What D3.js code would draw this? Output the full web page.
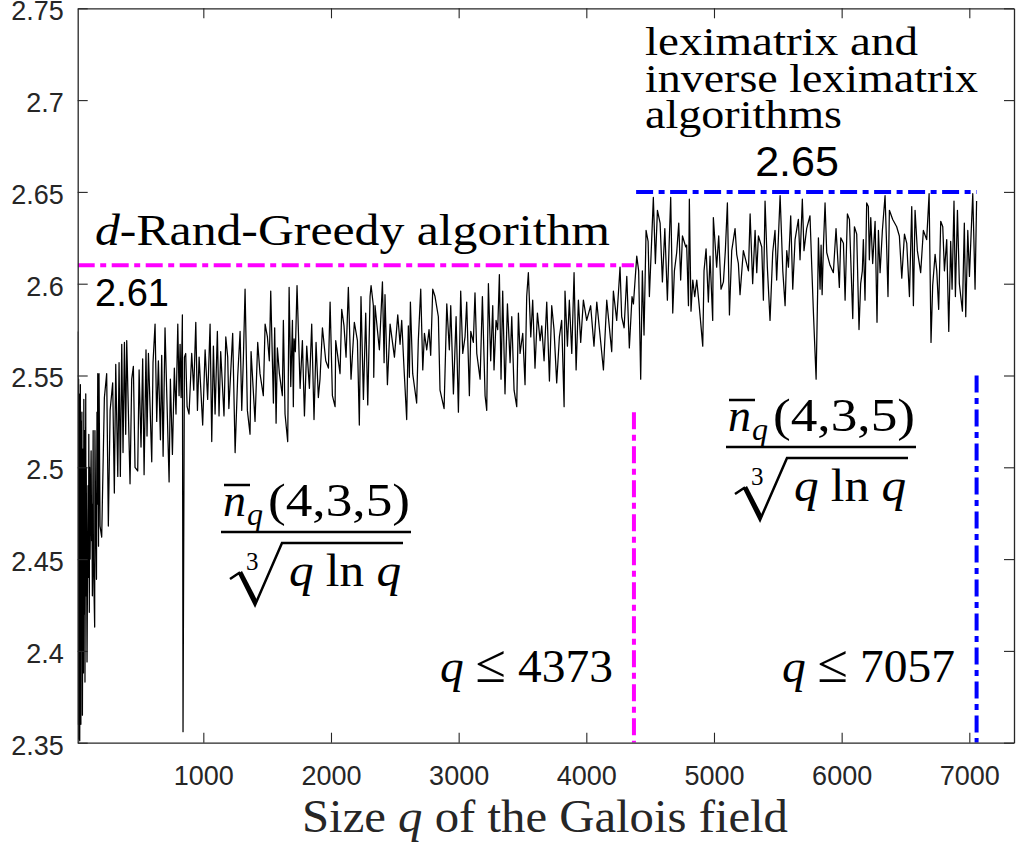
<!DOCTYPE html>
<html>
<head>
<meta charset="utf-8">
<script src="https://cdn.jsdelivr.net/npm/d3@7"></script>
<style>
  body { margin: 0; background: #fff; }
  svg { display: block; }
</style>
</head>
<body>
<svg id="chart" width="1016" height="844"></svg>
<script>
// ratio  n_q(4,3,5) / cbrt(q ln q) as [q, value]
const ratioLow = [
  [16, 2.574], [19, 2.36], [23, 2.548], [25, 2.352], [27, 2.54], [29, 2.37], [31, 2.53], [32, 2.351],
  [37, 2.545], [41, 2.36], [43, 2.525], [47, 2.40], [49, 2.53], [53, 2.365], [59, 2.51], [61, 2.388],
  [64, 2.537], [67, 2.42], [71, 2.52], [73, 2.383], [79, 2.54], [81, 2.43], [83, 2.50], [89, 2.394],
  [97, 2.49], [101, 2.44], [103, 2.518], [107, 2.421], [109, 2.50], [113, 2.45], [121, 2.509], [125, 2.46],
  [127, 2.48], [131, 2.43], [137, 2.52], [139, 2.45], [149, 2.413], [151, 2.52], [157, 2.47], [163, 2.439],
  [167, 2.53], [169, 2.48], [173, 2.551], [179, 2.457], [183, 2.551], [191, 2.468], [204, 2.462], [225, 2.538],
  [243, 2.551], [256, 2.468], [270, 2.531], [290, 2.546], [303, 2.486], [314, 2.556], [330, 2.495], [340, 2.557],
  [350, 2.495], [361, 2.567], [371, 2.508], [382, 2.568], [392, 2.518], [400, 2.569], [426, 2.491], [439, 2.548],
  [452, 2.555], [465, 2.500], [486, 2.498], [497, 2.553], [512, 2.511], [525, 2.559], [536, 2.496], [551, 2.564],
  [559, 2.517], [570, 2.562], [596, 2.503], [606, 2.557], [622, 2.578], [635, 2.525], [648, 2.558], [664, 2.515],
  [674, 2.561], [685, 2.506], [700, 2.576], [732, 2.492], [742, 2.548], [758, 2.507], [773, 2.554], [786, 2.529],
  [800, 2.578], [810, 2.539], [818, 2.567], [826, 2.538], [836, 2.583], [841, 2.356], [852, 2.560], [862, 2.562],
  [873, 2.533], [888, 2.529], [909, 2.562], [925, 2.542], [941, 2.579], [954, 2.531], [967, 2.560], [995, 2.523]
];

const ratioMid = [
  [1014, 2.564], [1034, 2.537], [1053, 2.578], [1066, 2.514], [1079, 2.566], [1092, 2.529], [1110, 2.574], [1123, 2.528],
  [1136, 2.563], [1162, 2.528], [1176, 2.571], [1191, 2.560], [1200, 2.532], [1230, 2.573], [1249, 2.508], [1269, 2.549],
  [1288, 2.574], [1301, 2.531], [1314, 2.560], [1327, 2.597], [1345, 2.531], [1366, 2.518], [1374, 2.563], [1405, 2.525],
  [1426, 2.568], [1444, 2.551], [1470, 2.539], [1484, 2.578], [1502, 2.571], [1517, 2.558], [1528, 2.596], [1549, 2.535],
  [1559, 2.576], [1570, 2.524], [1580, 2.565], [1596, 2.551], [1619, 2.539], [1627, 2.580], [1640, 2.529], [1661, 2.514],
  [1672, 2.598], [1685, 2.544], [1698, 2.580], [1705, 2.533], [1711, 2.570], [1721, 2.563], [1734, 2.599], [1758, 2.543],
  [1776, 2.569], [1792, 2.528], [1810, 2.566], [1831, 2.543], [1849, 2.578], [1867, 2.526], [1883, 2.568], [1901, 2.538],
  [1914, 2.548], [1933, 2.576], [1959, 2.558], [1980, 2.554], [1993, 2.590], [2011, 2.539], [2032, 2.533], [2037, 2.569],
  [2071, 2.551], [2084, 2.586], [2102, 2.577], [2118, 2.560], [2136, 2.598], [2157, 2.548], [2183, 2.579], [2207, 2.569],
  [2222, 2.523], [2235, 2.593], [2254, 2.537], [2272, 2.584], [2288, 2.534], [2306, 2.593], [2314, 2.599], [2332, 2.588],
  [2335, 2.549], [2345, 2.588], [2379, 2.564], [2403, 2.601], [2416, 2.557], [2423, 2.594], [2442, 2.545], [2463, 2.578],
  [2497, 2.560], [2523, 2.583], [2541, 2.567], [2554, 2.580], [2572, 2.554], [2593, 2.526], [2606, 2.577], [2614, 2.549],
  [2622, 2.590], [2640, 2.551], [2671, 2.535], [2684, 2.569], [2703, 2.597], [2719, 2.553], [2732, 2.573], [2750, 2.564],
  [2768, 2.575], [2781, 2.561], [2797, 2.597], [2815, 2.593], [2841, 2.582], [2854, 2.542]
];

const ratioUpper = [
  [2886, 2.532], [2907, 2.589], [2927, 2.564], [2938, 2.588], [2959, 2.540], [2980, 2.582], [2998, 2.530], [3016, 2.596],
  [3032, 2.562], [3050, 2.571], [3063, 2.590], [3084, 2.539], [3095, 2.574], [3115, 2.568], [3128, 2.595], [3142, 2.562],
  [3168, 2.548], [3186, 2.593], [3207, 2.539], [3220, 2.531], [3233, 2.600], [3251, 2.558], [3267, 2.588], [3277, 2.553],
  [3293, 2.580], [3306, 2.575], [3319, 2.605], [3332, 2.548], [3345, 2.596], [3363, 2.540], [3382, 2.589], [3403, 2.557],
  [3416, 2.582], [3434, 2.542], [3455, 2.533], [3468, 2.584], [3481, 2.562], [3502, 2.573], [3520, 2.545], [3533, 2.593],
  [3546, 2.606], [3565, 2.571], [3580, 2.591], [3598, 2.554], [3617, 2.584], [3638, 2.569], [3651, 2.577], [3669, 2.558],
  [3690, 2.590], [3711, 2.547], [3729, 2.588], [3747, 2.575], [3768, 2.546], [3789, 2.571], [3807, 2.580], [3826, 2.533],
  [3833, 2.596], [3852, 2.566], [3867, 2.591], [3886, 2.562], [3904, 2.606], [3920, 2.553], [3938, 2.591], [3956, 2.568],
  [3977, 2.591], [4003, 2.580], [4034, 2.588], [4060, 2.566], [4082, 2.590], [4134, 2.553], [4160, 2.591], [4199, 2.563],
  [4212, 2.596], [4238, 2.580], [4264, 2.609], [4277, 2.582], [4296, 2.576], [4317, 2.604], [4337, 2.565], [4358, 2.593],
  [4369, 2.589], [4380, 2.600], [4395, 2.615], [4410, 2.607], [4426, 2.548], [4439, 2.607], [4452, 2.572]
];

const ratioHigh = [
  [4468, 2.629], [4484, 2.623], [4494, 2.593], [4512, 2.624], [4525, 2.647], [4541, 2.611], [4557, 2.640], [4578, 2.633],
  [4596, 2.601], [4615, 2.630], [4635, 2.591], [4648, 2.620], [4661, 2.647], [4677, 2.584], [4690, 2.607], [4708, 2.617],
  [4724, 2.633], [4739, 2.602], [4753, 2.626], [4779, 2.620], [4786, 2.621], [4800, 2.588], [4807, 2.646], [4820, 2.585],
  [4834, 2.602], [4849, 2.593], [4865, 2.602], [4883, 2.589], [4912, 2.566], [4922, 2.607], [4938, 2.619], [4956, 2.590],
  [4969, 2.615], [4990, 2.580], [4995, 2.636], [5021, 2.609], [5037, 2.626], [5055, 2.597], [5074, 2.601], [5089, 2.618],
  [5105, 2.644], [5121, 2.583], [5139, 2.618], [5165, 2.630], [5178, 2.616], [5191, 2.611], [5204, 2.594], [5230, 2.618],
  [5270, 2.607], [5283, 2.638], [5303, 2.600], [5322, 2.629], [5335, 2.606], [5348, 2.626], [5374, 2.620], [5387, 2.591],
  [5400, 2.645], [5418, 2.609], [5439, 2.580], [5460, 2.617], [5478, 2.629], [5491, 2.602], [5518, 2.648], [5539, 2.607],
  [5557, 2.588], [5570, 2.618], [5583, 2.609], [5601, 2.637], [5617, 2.597], [5635, 2.624], [5661, 2.635], [5674, 2.613],
  [5692, 2.646], [5705, 2.618], [5726, 2.630], [5752, 2.637], [5766, 2.609], [5779, 2.584], [5800, 2.548], [5813, 2.600],
  [5818, 2.625], [5831, 2.597], [5839, 2.621], [5847, 2.594], [5857, 2.620], [5870, 2.644], [5883, 2.617], [5909, 2.610],
  [5935, 2.606], [5956, 2.630], [5982, 2.598], [5993, 2.625], [6014, 2.622], [6027, 2.591], [6045, 2.638], [6061, 2.635],
  [6071, 2.614], [6087, 2.581], [6100, 2.631], [6118, 2.627], [6136, 2.575], [6149, 2.600], [6162, 2.607], [6170, 2.624],
  [6183, 2.591], [6196, 2.644], [6209, 2.642], [6217, 2.613], [6228, 2.636], [6243, 2.611], [6262, 2.634], [6277, 2.579],
  [6288, 2.629], [6301, 2.606], [6319, 2.629], [6340, 2.648], [6353, 2.619], [6363, 2.593], [6374, 2.640], [6400, 2.635],
  [6431, 2.631], [6452, 2.626], [6471, 2.603], [6492, 2.627], [6510, 2.622], [6531, 2.593], [6549, 2.642], [6562, 2.588],
  [6575, 2.640], [6593, 2.618], [6619, 2.606], [6640, 2.629], [6666, 2.624], [6685, 2.649], [6700, 2.568], [6713, 2.599],
  [6732, 2.616], [6745, 2.607], [6760, 2.586], [6776, 2.634], [6792, 2.631], [6805, 2.607], [6823, 2.624], [6839, 2.574],
  [6854, 2.623], [6865, 2.597], [6880, 2.645], [6891, 2.593], [6907, 2.640], [6922, 2.600], [6946, 2.585], [6961, 2.633],
  [6972, 2.582], [6988, 2.629], [7001, 2.604], [7014, 2.627], [7027, 2.649], [7045, 2.597], [7057, 2.645]
];

// bounds of the two algorithms
const greedyLevel = 2.61, greedyMaxQ = 4373, greedyLineBottom = 2.53;
const lexLevel = 2.65, lexMinQ = 4390, lexMaxQ = 7057, lexLineBottom = 2.55;

const xTicks = [1000, 2000, 3000, 4000, 5000, 6000, 7000];
const yTicks = [2.35, 2.4, 2.45, 2.5, 2.55, 2.6, 2.65, 2.7, 2.75];

const svg = d3.select('#chart');
const plotLeft = 77.7, plotRight = 1014, plotTop = 8.3, plotBottom = 742.7;

const x = d3.scaleLinear().domain([16, 7350]).range([plotLeft, plotRight]);
const y = d3.scaleLinear().domain([2.35, 2.75]).range([plotBottom, plotTop]);

const axisColor = '#262626';
const sans = '"Liberation Sans", Arial, Helvetica, sans-serif';
const serif = '"Liberation Serif", "Times New Roman", serif';

svg.append('defs').append('clipPath').attr('id', 'plot')
  .append('rect')
    .attr('x', plotLeft).attr('y', plotTop)
    .attr('width', plotRight - plotLeft).attr('height', plotBottom - plotTop);

// data line
const ratio = ratioLow.concat(ratioMid, ratioUpper, ratioHigh);
const line = d3.line().x(d => x(d[0])).y(d => y(d[1]));

svg.append('path')
  .datum(ratio)
  .attr('clip-path', 'url(#plot)')
  .attr('fill', 'none')
  .attr('stroke', '#000')
  .attr('stroke-width', 1.25)
  .attr('stroke-linejoin', 'round')
  .attr('d', line);

// dash-dot bounds
const dashDot = '17,5.5,6,5.5';
const bounds = svg.append('g').attr('clip-path', 'url(#plot)')
  .attr('fill', 'none').attr('stroke-width', 4).attr('stroke-dasharray', dashDot);

bounds.append('line')
  .attr('stroke', '#ff00ff')
  .attr('x1', x(16)).attr('x2', x(greedyMaxQ))
  .attr('y1', y(greedyLevel)).attr('y2', y(greedyLevel));
bounds.append('line')
  .attr('stroke', '#ff00ff')
  .attr('x1', x(greedyMaxQ)).attr('x2', x(greedyMaxQ))
  .attr('y1', y(greedyLineBottom)).attr('y2', y(2.35));
bounds.append('line')
  .attr('stroke', '#0000ff')
  .attr('x1', x(lexMinQ)).attr('x2', x(lexMaxQ))
  .attr('y1', y(lexLevel)).attr('y2', y(lexLevel));
bounds.append('line')
  .attr('stroke', '#0000ff')
  .attr('x1', x(lexMaxQ)).attr('x2', x(lexMaxQ))
  .attr('y1', y(lexLineBottom)).attr('y2', y(2.35));

// axes, ticks inside on all four sides
const styleAxis = g => {
  g.select('.domain').attr('stroke', axisColor).attr('stroke-width', 1.3);
  g.selectAll('.tick line').attr('stroke', axisColor).attr('stroke-width', 1.1);
  g.selectAll('.tick text').attr('fill', axisColor)
    .style('font-family', sans).style('font-size', '27px');
};

svg.append('g')
  .attr('transform', `translate(0,${plotBottom})`)
  .call(d3.axisBottom(x).tickValues(xTicks).tickSizeInner(-10).tickSizeOuter(0).tickPadding(23)
    .tickFormat(d3.format('d')))
  .call(styleAxis);
svg.append('g')
  .attr('transform', `translate(0,${plotTop})`)
  .call(d3.axisTop(x).tickValues(xTicks).tickSizeInner(-10).tickSizeOuter(0).tickFormat(''))
  .call(styleAxis);
svg.append('g')
  .attr('transform', `translate(${plotLeft},0)`)
  .call(d3.axisLeft(y).tickValues(yTicks).tickSizeInner(-10).tickSizeOuter(0).tickPadding(14)
    .tickFormat(d => String(+d.toFixed(2))))
  .call(styleAxis)
  .call(g => g.selectAll('.tick text').attr('dy', '0.42em'));
svg.append('g')
  .attr('transform', `translate(${plotRight},0)`)
  .call(d3.axisRight(y).tickValues(yTicks).tickSizeInner(-10).tickSizeOuter(0).tickFormat(''))
  .call(styleAxis);

// x axis title
const xTitle = svg.append('text')
  .attr('x', 545).attr('y', 832)
  .attr('text-anchor', 'middle')
  .attr('fill', axisColor)
  .style('font-family', serif).style('font-size', '46px')
  .attr('textLength', 486).attr('lengthAdjust', 'spacingAndGlyphs');
xTitle.append('tspan').text('Size ');
xTitle.append('tspan').style('font-style', 'italic').text('q');
xTitle.append('tspan').text(' of the Galois field');

// annotations
const note = (px, py, size, len) => svg.append('text')
  .attr('x', px).attr('y', py)
  .attr('fill', '#000')
  .style('font-family', serif).style('font-size', size + 'px')
  .attr('textLength', len).attr('lengthAdjust', 'spacingAndGlyphs');

const greedyNote = note(95, 245, 44, 515);
greedyNote.append('tspan').style('font-style', 'italic').text('d');
greedyNote.append('tspan').text('-Rand-Greedy algorithm');

note(645, 55, 41, 273).text('leximatrix and');
note(645, 92, 41, 333).text('inverse leximatrix');
note(645, 128, 41, 197).text('algorithms');

svg.append('text')
  .attr('x', 797).attr('y', 176).attr('text-anchor', 'middle')
  .attr('fill', '#000')
  .style('font-family', sans).style('font-size', '43px')
  .text(lexLevel.toFixed(2));
svg.append('text')
  .attr('x', 95).attr('y', 306)
  .attr('fill', '#000')
  .style('font-family', sans).style('font-size', '38px')
  .text(greedyLevel.toFixed(2));

const qNote = (px, value) => {
  const t = note(px, 682, 46, 173);
  t.append('tspan').style('font-style', 'italic').text('q');
  t.append('tspan').text(' ');
  t.append('tspan').style('font-size', '54px').text('\u2264');
  t.append('tspan').text(' ' + value);
};
qNote(440, greedyMaxQ);
qNote(782, lexMaxQ);

// fraction n_q(4,3,5) / cbrt(q ln q)
const fraction = (ox, oy) => {
  const g = svg.append('g').attr('transform', `translate(${ox},${oy})`)
    .style('font-family', serif).attr('fill', '#000');
  g.append('line').attr('x1', 3).attr('x2', 29).attr('y1', -47).attr('y2', -47)
    .attr('stroke', '#000').attr('stroke-width', 2.5);
  g.append('text').attr('x', 2).attr('y', -16).style('font-size', '46px')
    .style('font-style', 'italic').text('n');
  g.append('text').attr('x', 26).attr('y', -7).style('font-size', '32px')
    .style('font-style', 'italic').text('q');
  g.append('text').attr('x', 47).attr('y', -16).style('font-size', '46px')
    .attr('textLength', 142).attr('lengthAdjust', 'spacingAndGlyphs').text('(4,3,5)');
  g.append('line').attr('x1', 0).attr('x2', 190).attr('y1', 0).attr('y2', 0)
    .attr('stroke', '#000').attr('stroke-width', 2.5);
  g.append('path')
    .attr('d', 'M9,47 L18,41 L34,73 L61,11 L182,11')
    .attr('fill', 'none').attr('stroke', '#000').attr('stroke-width', 2.5)
    .attr('stroke-linejoin', 'miter');
  g.append('path')
    .attr('d', 'M18,41 L21,39 L36,68 L34,73 Z')
    .attr('fill', '#000');
  g.append('text').attr('x', 25).attr('y', 38).style('font-size', '25px').text('3');
  const den = g.append('text').attr('x', 68).attr('y', 54).style('font-size', '46px')
    .attr('textLength', 112).attr('lengthAdjust', 'spacingAndGlyphs');
  den.append('tspan').style('font-style', 'italic').text('q');
  den.append('tspan').text(' ln ');
  den.append('tspan').style('font-style', 'italic').text('q');
};
fraction(221, 532);
fraction(726, 447);
</script>
</body>
</html>
